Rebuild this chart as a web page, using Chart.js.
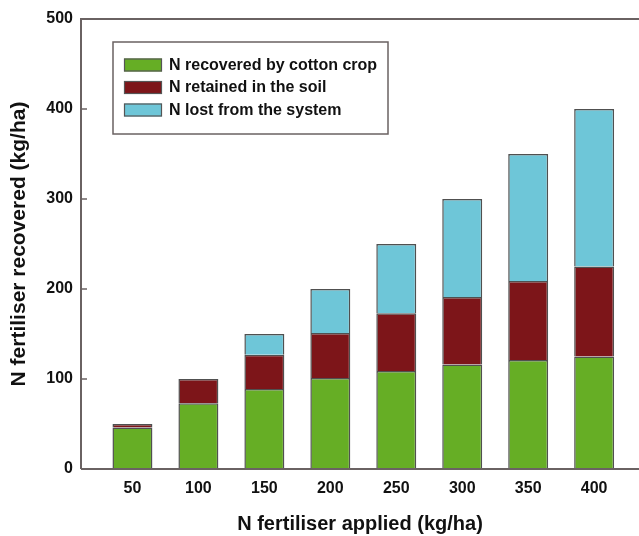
<!DOCTYPE html>
<html><head><meta charset="utf-8">
<script src="https://cdn.jsdelivr.net/npm/chart.js@4/dist/chart.umd.min.js"></script>
<style>html,body{margin:0;padding:0;background:#fff}#wrap{width:639px;height:536px;position:relative}</style>
</head><body><div id="wrap"><canvas id="c" width="639" height="536"></canvas></div>
<script>
const categories = [50, 100, 150, 200, 250, 300, 350, 400];
const seriesNames = ["N recovered by cotton crop", "N retained in the soil", "N lost from the system"];
const recovered = [46, 73, 89, 101, 109, 116, 121, 125];
const retained = [4, 27, 38, 50, 64, 75, 88, 100];
const lost = [null, null, 23, 49, 77, 109, 141, 175];
const yTicks = [0, 100, 200, 300, 400, 500];

const colors = ["#66ae25", "#7d1519", "#6ec6d8"];
const FONT = "'Liberation Sans', Arial, sans-serif";
const AXIS = "#6a6262";

function pts(arr){ return categories.map((c,i)=>({x:c, y:arr[i]})); }

const frame = {
  id:'frame',
  afterDraw(chart){
    const {ctx, chartArea:a, scales:{y}} = chart;
    ctx.save();
    ctx.strokeStyle = AXIS; ctx.lineWidth = 2;
    ctx.beginPath();
    ctx.moveTo(a.left, a.bottom); ctx.lineTo(a.left, a.top); ctx.lineTo(chart.width, a.top);
    ctx.moveTo(a.left, a.bottom); ctx.lineTo(chart.width, a.bottom);
    ctx.stroke();
    ctx.lineWidth = 1.5;
    yTicks.forEach(v=>{ if(v===0||v===500) return; const py=y.getPixelForValue(v); ctx.beginPath(); ctx.moveTo(a.left, py); ctx.lineTo(a.left+6, py); ctx.stroke(); });
    // legend
    const lx=113, ly=42, lw=275, lh=92;
    ctx.fillStyle='#fff'; ctx.fillRect(lx,ly,lw,lh);
    ctx.strokeStyle=AXIS; ctx.lineWidth=1.5; ctx.strokeRect(lx,ly,lw,lh);
    ctx.font = "bold 16px " + FONT; ctx.textBaseline='middle'; ctx.textAlign='left';
    chart.data.datasets.forEach((ds,i)=>{
      const cy = 65 + i*22.5;
      ctx.fillStyle = ds.backgroundColor; ctx.fillRect(124, cy-6.5, 38, 13);
      ctx.strokeStyle='#555'; ctx.lineWidth=1.2; ctx.strokeRect(124.5, cy-6, 37, 12);
      ctx.fillStyle='#111'; ctx.fillText(ds.label, 169, cy+0.5);
    });
    ctx.restore();
  }
};

new Chart(document.getElementById('c'), {
  type:'bar',
  data:{ datasets:[
    {label:seriesNames[0], data:pts(recovered), backgroundColor:colors[0]},
    {label:seriesNames[1], data:pts(retained), backgroundColor:colors[1]},
    {label:seriesNames[2], data:pts(lost), backgroundColor:colors[2]}
  ]},
  options:{
    responsive:false, animation:false,
    datasets:{bar:{borderColor:'#505050', borderWidth:1.5, barPercentage:0.606, categoryPercentage:1}},
    layout:{padding:{top:19, right:0, left:0, bottom:0}},
    plugins:{legend:{display:false}, tooltip:{enabled:false}},
    scales:{
      x:{type:'linear', stacked:true, min:11, max:434, offset:false,
        afterBuildTicks(s){ s.ticks = categories.map(v=>({value:v})); },
        afterFit(s){ s.height = 67; },
        grid:{display:false, drawTicks:false}, border:{display:false},
        ticks:{color:'#111', font:{family:FONT, size:16, weight:'bold'}, padding:10, autoSkip:false, maxRotation:0},
        title:{display:true, text:'N fertiliser applied (kg/ha)', color:'#111', font:{family:FONT, size:20, weight:'bold'}, padding:{top:0, bottom:0}}
      },
      y:{stacked:true, min:0, max:500,
        afterBuildTicks(s){ s.ticks = yTicks.map(v=>({value:v})); },
        afterFit(s){ s.width = 81; },
        grid:{display:false, drawTicks:false}, border:{display:false},
        ticks:{color:'#111', font:{family:FONT, size:16, weight:'bold'}, padding:8},
        title:{display:true, text:'N fertiliser recovered (kg/ha)', color:'#111', font:{family:FONT, size:21, weight:'bold'}, padding:{top:7,bottom:0}}
      }
    }
  },
  plugins:[frame]
});
</script></body></html>
